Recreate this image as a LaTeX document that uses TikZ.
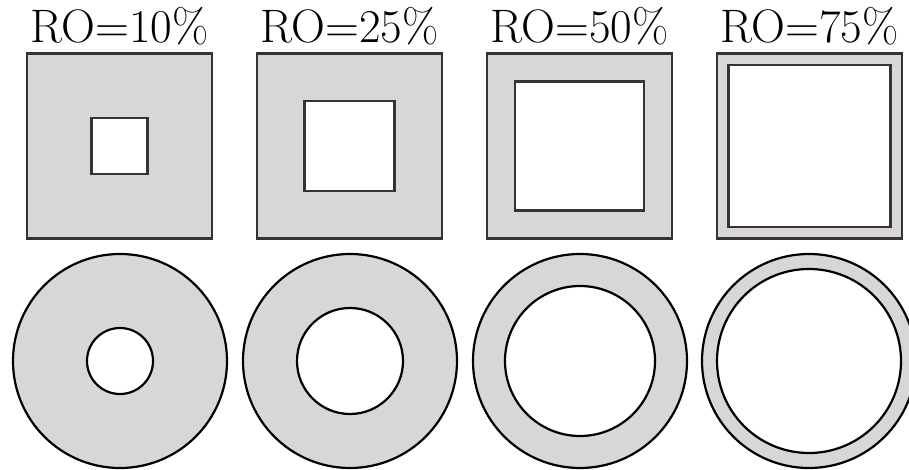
\documentclass[tikz,border=0pt]{standalone}
\usepackage{fontspec}
\usepackage{tikz}
\usetikzlibrary{positioning}
\definecolor{ringgray}{HTML}{D7D7D7}
\definecolor{edgedark}{HTML}{3A3232}

\begin{document}
\begin{tikzpicture}[
    x=1pt, y=-1pt,
    outersq/.style={rectangle, draw=edgedark, fill=ringgray, line width=2.2pt,
                    inner sep=0pt, minimum size=#1},
    innersq/.style={rectangle, draw=edgedark, fill=white, line width=2.2pt,
                    inner sep=0pt, minimum size=#1},
    outerdisc/.style={circle, draw=black, fill=ringgray, line width=2.2pt,
                      inner sep=0pt, minimum size=#1},
    innerdisc/.style={circle, draw=black, fill=white, line width=2.2pt,
                      inner sep=0pt, minimum size=#1},
    ratio/.style={anchor=base, inner sep=0pt, font=\fontsize{47}{56}\selectfont}
  ]
    \useasboundingbox (0,0) rectangle (909,470);

    % labels
    \node[ratio] (lab10) at (119.5,43) {RO=10\%};
    \node[ratio] (lab25) at (349.5,43) {RO=25\%};
    \node[ratio] (lab50) at (579.5,43) {RO=50\%};
    \node[ratio] (lab75) at (809.5,43) {RO=75\%};

    % square cross sections
    \node[outersq=185pt] (sqout10) at (119.5,146) {};
    \node[innersq=56pt] (sqin10) at (sqout10.center) {};
    \node[outersq=185pt] (sqout25) at (349.5,146) {};
    \node[innersq=90pt] (sqin25) at (sqout25.center) {};
    \node[outersq=185pt] (sqout50) at (579.5,146) {};
    \node[innersq=129pt] (sqin50) at (sqout50.center) {};
    \node[outersq=185pt] (sqout75) at (809.5,146) {};
    \node[innersq=162pt] (sqin75) at (sqout75.center) {};

    % circular cross sections
    \node[outerdisc=214pt] (discout10) at (120,361) {};
    \node[innerdisc=66pt] (discin10) at (discout10.center) {};
    \node[outerdisc=214pt] (discout25) at (350,361) {};
    \node[innerdisc=106pt] (discin25) at (discout25.center) {};
    \node[outerdisc=214pt] (discout50) at (580,361) {};
    \node[innerdisc=150pt] (discin50) at (discout50.center) {};
    \node[outerdisc=214pt] (discout75) at (809,361) {};
    \node[innerdisc=184pt] (discin75) at (discout75.center) {};
\end{tikzpicture}
\end{document}
